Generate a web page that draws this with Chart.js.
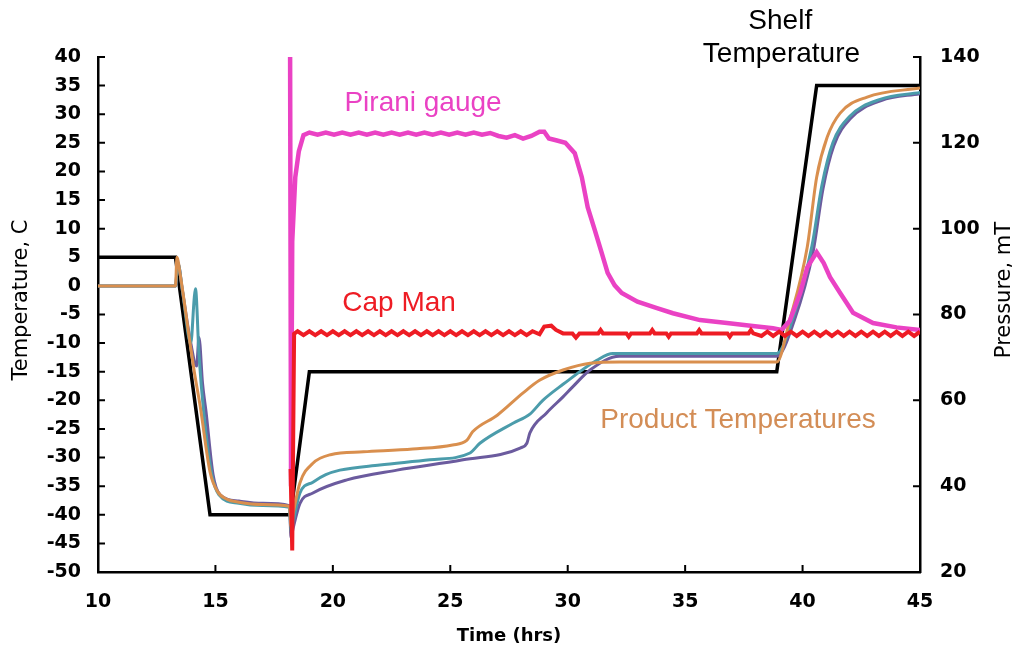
<!DOCTYPE html>
<html>
<head>
<meta charset="utf-8">
<script src="https://cdn.jsdelivr.net/npm/chart.js@4.4.1/dist/chart.umd.min.js"></script>
<style>
  html, body { margin: 0; padding: 0; background: #fff; }
  canvas { display: block; }
</style>
</head>
<body>
<canvas id="chart" width="1017" height="653"></canvas>
<script>
// Axis ranges / tick steps
const timeTicks = { min: 10, max: 45, step: 5 };
const tempTicks = { min: -50, max: 40, step: 5 };
const pressTicks = { min: 20, max: 140, step: 20 };

// Shelf temperature setpoint, [time hrs, temp C]
const shelfTemp = [
    [10, 5], [13.3, 5], [14.77, -40], [18.2, -40], [19.0, -15],
    [38.9, -15], [40.6, 35], [45, 35]
];

// Product thermocouples, [time hrs, temp C]
const productA = [
    [10, 0], [13.3, 0], [13.36, 5], [13.5, 2], [13.9, -9.5], [14.1, -15], [14.35, -21],
    [14.77, -32.5], [15.1, -36], [15.5, -37.3], [16, -37.8], [17, -38.2], [18.15, -38.5],
    [18.22, -42], [18.3, -40], [18.6, -34.4], [19.15, -31], [19.9, -29.5], [21.3, -29],
    [23.4, -28.5], [25.1, -27.8], [25.7, -27], [25.95, -25.5], [27.0, -22.6], [28.1, -18.7],
    [28.8, -16.5], [29.8, -14.7], [30.95, -13.5], [32.2, -13.3], [38.9, -13.3], [39.45, -6],
    [40.2, 6.8], [40.6, 19], [41.05, 26], [41.6, 30.2], [42.75, 33], [45, 34.6]
];
const productB = [
    [10, 0], [13.3, 0], [13.4, 4], [13.6, -1], [13.95, -10], [14.1, -2], [14.15, -0.5], [14.3, -12],
    [14.5, -22], [14.85, -33], [15.15, -36.5], [16, -38], [17, -38.4], [18.15, -38.7],
    [18.22, -43], [18.3, -41.5], [18.6, -36.2], [19.15, -34.3], [19.7, -33], [20.3, -32.2],
    [22.0, -31.3], [24.13, -30.4], [25.84, -29.2], [26.26, -27.5], [27.67, -24], [28.39, -22.4],
    [28.94, -20], [29.8, -17.2], [31.24, -13], [31.92, -11.8], [38.9, -11.8], [39.6, -5.5],
    [40.4, 7], [40.82, 17.5], [41.29, 25], [42.0, 29.6], [43.3, 32.6], [45, 33.8]
];
const productC = [
    [10, 0], [13.3, 0], [13.4, 4], [13.6, -1], [13.95, -10], [14.2, -14], [14.3, -9], [14.45, -17],
    [14.6, -22], [14.9, -33], [15.2, -36.5], [16, -37.6], [17, -38], [18.15, -38.4],
    [18.22, -44], [18.3, -42.5], [18.6, -38], [19.15, -36.2], [20.6, -33.9], [22.73, -32.2],
    [25.54, -30.4], [28.0, -28.3], [28.26, -27.5], [28.39, -25.7], [29.1, -22.2], [29.8, -19.4],
    [30.2, -17.7], [30.95, -14.7], [32.2, -12.3], [38.9, -12.3], [39.65, -6], [40.45, 6],
    [40.87, 17], [41.33, 24.5], [42.05, 29.3], [43.35, 32.4], [45, 33.6]
];

// Pirani gauge, [time hrs, pressure mT]
const pirani = [
    [18.18, 140], [18.22, 40], [18.27, 97], [18.4, 112], [18.55, 118], [18.75, 121.8],
    [19.0, 122.4], [19.35, 121.9], [19.7, 122.4], [20.05, 121.9], [20.4, 122.4], [20.75, 121.9],
    [21.1, 122.4], [21.45, 121.9], [21.8, 122.4], [22.15, 121.9], [22.5, 122.4], [22.85, 121.9],
    [23.2, 122.4], [23.55, 121.9], [23.9, 122.4], [24.25, 121.9], [24.6, 122.4], [24.95, 121.9],
    [25.3, 122.4], [25.65, 121.9], [26.0, 122.4], [26.35, 121.9], [26.7, 122.3], [27.05, 121.6],
    [27.4, 121.2], [27.75, 121.8], [28.1, 121.0], [28.45, 121.6], [28.8, 122.6], [29.0, 122.6],
    [29.2, 121.0], [29.5, 120.6], [29.9, 120], [30.3, 117.6], [30.6, 112], [30.85, 105],
    [31.15, 99.7], [31.45, 94.3], [31.7, 89.7], [32.0, 86.8], [32.3, 85], [32.97, 83],
    [33.8, 81.5], [34.48, 80.3], [35.63, 78.7], [36.78, 78], [37.88, 77.3], [38.74, 76.8],
    [39.1, 76.4], [39.45, 78.5], [39.9, 85], [40.2, 91], [40.6, 94.5], [40.9, 92],
    [41.17, 88.7], [41.6, 85], [42.15, 80.4], [43.0, 78], [44.0, 77], [45.0, 76.4]
];

// Capacitance manometer, [time hrs, pressure mT]
const capMan = [
    [18.2, 44], [18.27, 25], [18.35, 75.5],
    [18.5, 76.1], [18.75, 75.2], [19, 76.1], [19.25, 75.2], [19.5, 76.1], [19.75, 75.2],
    [20, 76.1], [20.25, 75.2], [20.5, 76.1], [20.75, 75.2], [21, 76.1], [21.25, 75.2],
    [21.5, 76.1], [21.75, 75.2], [22, 76.1], [22.25, 75.2], [22.5, 76.1], [22.75, 75.2],
    [23, 76.1], [23.25, 75.2], [23.5, 76.1], [23.75, 75.2], [24, 76.1], [24.25, 75.2],
    [24.5, 76.1], [24.75, 75.2], [25, 76.1], [25.25, 75.2], [25.5, 76.1], [25.75, 75.2],
    [26, 76.1], [26.25, 75.2], [26.5, 76.1], [26.75, 75.2], [27, 76.1], [27.25, 75.2],
    [27.5, 76.1], [27.75, 75.2], [28, 76.1], [28.25, 75.2], [28.5, 76.1],
    [28.8, 75.4], [29.0, 77.2], [29.3, 77.4], [29.5, 76.4], [29.8, 75.6], [30.2, 75.6],
    [30.35, 74.6], [30.5, 75.6], [31.3, 75.6], [31.4, 76.4], [31.5, 75.6], [32.5, 75.6],
    [32.6, 74.8], [32.7, 75.6], [33.5, 75.6], [33.6, 76.4], [33.7, 75.6], [34.2, 75.6],
    [34.3, 74.8], [34.4, 75.6], [35.5, 75.6], [35.6, 76.4], [35.7, 75.6], [36.8, 75.6],
    [36.9, 74.8], [37.0, 75.6], [37.7, 75.6], [37.8, 76.4], [37.9, 75.6],
    [38.25, 75.0], [38.5, 76.0], [38.75, 75.0], [39, 76.0], [39.25, 75.0], [39.5, 76.0],
    [39.75, 75.0], [40, 76.0], [40.25, 75.0], [40.5, 76.0], [40.75, 75.0], [41, 76.0],
    [41.25, 75.0], [41.5, 76.0], [41.75, 75.0], [42, 76.0], [42.25, 75.0], [42.5, 76.0],
    [42.75, 75.0], [43, 76.0], [43.25, 75.0], [43.5, 76.0], [43.75, 75.0], [44, 76.0],
    [44.25, 75.0], [44.5, 76.0], [44.75, 75.0], [45, 76.0]
];

// Text labels placed in data units (time, temp C), baseline anchored
const notes = [
    { text: 'Pirani gauge', t: 23.84, v: 30.6, color: '#ea42c4' },
    { text: 'Cap Man', t: 22.82, v: -4.4, color: '#ee1c24' },
    { text: 'Product Temperatures', t: 37.25, v: -24.8, color: '#d38d56' },
    { text: 'Shelf', t: 39.05, v: 44.9, color: '#000' },
    { text: 'Temperature', t: 39.1, v: 39.1, color: '#000' }
];

const COLORS = {
    shelf: '#000000',
    pirani: '#ea42c4',
    cap: '#ee1c24',
    a: '#d98f4e',
    b: '#4b9cab',
    c: '#6b5b9e'
};

const toXY = arr => arr.map(p => ({ x: p[0], y: p[1] }));

const tickFont = { family: 'DejaVu Sans', size: 19, weight: 'bold' };
const TICK_LEN = 7;

// inward tick marks (under the lines), rotated y titles, text labels
const decor = {
    id: 'decor',
    beforeDatasetsDraw(chart) {
        const { ctx, chartArea: a, scales } = chart;
        ctx.save();
        ctx.strokeStyle = '#000';
        ctx.lineWidth = 2;
        ctx.beginPath();
        scales.yT.ticks.forEach(t => {
            const y = scales.yT.getPixelForValue(t.value);
            ctx.moveTo(a.left, y);
            ctx.lineTo(a.left + TICK_LEN, y);
        });
        scales.yP.ticks.forEach(t => {
            const y = scales.yP.getPixelForValue(t.value);
            ctx.moveTo(a.right, y);
            ctx.lineTo(a.right - TICK_LEN, y);
        });
        scales.x.ticks.forEach(t => {
            const x = scales.x.getPixelForValue(t.value);
            ctx.moveTo(x, a.bottom);
            ctx.lineTo(x, a.bottom - TICK_LEN);
        });
        ctx.stroke();
        ctx.restore();
    },
    afterDraw(chart) {
        const { ctx, scales } = chart;
        ctx.save();
        // y axis titles, both reading bottom to top
        ctx.fillStyle = '#000';
        ctx.font = '21px "DejaVu Sans"';
        ctx.textAlign = 'center';
        ctx.textBaseline = 'middle';
        ctx.save();
        ctx.translate(22, 300);
        ctx.rotate(-Math.PI / 2);
        ctx.fillText('Temperature, C', 0, 0);
        ctx.restore();
        ctx.save();
        ctx.translate(1005, 290);
        ctx.rotate(-Math.PI / 2);
        ctx.fillText('Pressure, mT', 0, 0);
        ctx.restore();

        ctx.font = '28px "Liberation Sans", Arial, sans-serif';
        ctx.textBaseline = 'alphabetic';
        notes.forEach(n => {
            ctx.fillStyle = n.color;
            ctx.fillText(n.text, scales.x.getPixelForValue(n.t), scales.yT.getPixelForValue(n.v));
        });
        ctx.restore();
    }
};

const line = (data, color, width, axis, extra) => Object.assign({
    data: toXY(data),
    borderColor: color,
    backgroundColor: color,
    borderWidth: width,
    yAxisID: axis,
    pointRadius: 0,
    fill: false,
    tension: 0
}, extra || {});

new Chart(document.getElementById('chart'), {
    type: 'line',
    data: {
        datasets: [
            line(capMan, COLORS.cap, 4, 'yP'),
            line(pirani, COLORS.pirani, 4.5, 'yP'),
            line(productA, COLORS.a, 3, 'yT', { cubicInterpolationMode: 'monotone' }),
            line(productB, COLORS.b, 3, 'yT', { cubicInterpolationMode: 'monotone' }),
            line(productC, COLORS.c, 3, 'yT', { cubicInterpolationMode: 'monotone' }),
            line(shelfTemp, COLORS.shelf, 3.5, 'yT')
        ]
    },
    options: {
        responsive: false,
        animation: false,
        layout: { padding: { top: 57 } },
        plugins: {
            legend: { display: false },
            tooltip: { enabled: false }
        },
        scales: {
            x: {
                type: 'linear',
                min: timeTicks.min,
                max: timeTicks.max,
                ticks: { stepSize: timeTicks.step, padding: 19, color: '#000', font: tickFont, autoSkip: false, maxRotation: 0 },
                grid: { display: false, drawTicks: false },
                border: { color: '#000', width: 2.5 },
                title: { display: true, text: 'Time (hrs)', color: '#000', font: { family: 'DejaVu Sans', size: 18, weight: 'bold' }, padding: { top: 0, bottom: 6 } },
                afterFit(s) { s.height = 81; }
            },
            yT: {
                position: 'left',
                min: tempTicks.min,
                max: tempTicks.max,
                ticks: { stepSize: tempTicks.step, padding: 17, color: '#000', font: tickFont, autoSkip: false },
                grid: { display: false, drawTicks: false },
                border: { color: '#000', width: 2.5 },
                afterFit(s) { s.width = 98; }
            },
            yP: {
                position: 'right',
                min: pressTicks.min,
                max: pressTicks.max,
                ticks: { stepSize: pressTicks.step, padding: 20, color: '#000', font: tickFont, autoSkip: false },
                grid: { display: false, drawTicks: false },
                border: { color: '#000', width: 2.5 },
                afterFit(s) { s.width = 97; }
            }
        }
    },
    plugins: [decor]
});
</script>
</body>
</html>
